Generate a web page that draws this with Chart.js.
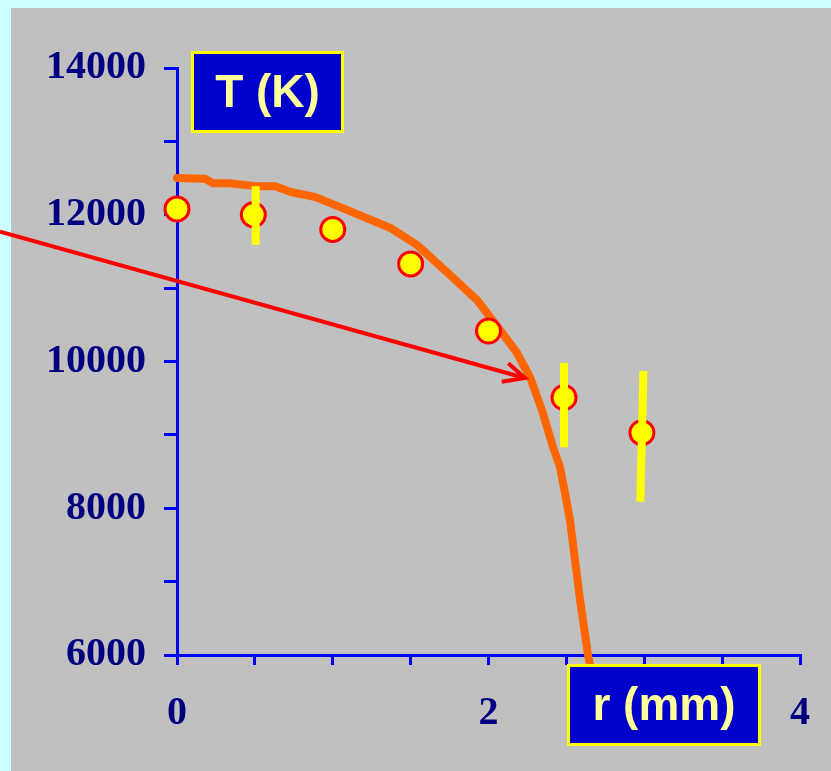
<!DOCTYPE html>
<html>
<head>
<meta charset="utf-8">
<script src="https://cdn.jsdelivr.net/npm/chart.js@4/dist/chart.umd.min.js"></script>
<style>
html,body{margin:0;padding:0;background:#ccffff;}
canvas{display:block;}
</style>
</head>
<body>
<canvas id="c" width="831" height="771"></canvas>
<script>
// Measured points (r in mm, T in K)
const pointR = [0, 0.49, 1.0, 1.5, 2.0, 2.485, 2.985];
const pointT = [12080, 12000, 11800, 11330, 10415, 9510, 9030];

// Error bars
const errTopR = [0.505, 2.485, 2.995];
const errTopT = [12390, 9980, 9870];
const errBotR = [0.505, 2.485, 2.975];
const errBotT = [11590, 8830, 8090];

// Model curve
const curveR = [0, 0.18, 0.23, 0.34, 0.5, 0.63, 0.73, 0.89, 1.11, 1.37, 1.54, 1.753, 1.926, 2.074, 2.183, 2.266, 2.343, 2.414, 2.459, 2.491, 2.523, 2.588, 2.639, 2.652];
const curveT = [12500, 12490, 12430, 12430, 12390, 12390, 12310, 12240, 12050, 11820, 11590, 11179, 10838, 10429, 10116, 9789, 9339, 8835, 8562, 8208, 7840, 6750, 6000, 5864];

// Arrow (shaft start, tip, wings)
const arrowR = [-1.1365, 2.234];
const arrowT = [11769, 9775];
const wingR = [2.127, 2.234, 2.085];
const wingT = [9975, 9775, 9725];

// Axis ticks
const xLabelValues = [0, 2, 4];
const yLabelValues = [6000, 8000, 10000, 12000, 14000];
const yTitle = 'T (K)';
const xTitle = 'r (mm)';

const zip = (a, b) => a.map((v, i) => ({x: v, y: b[i]}));
const errData = [];
errTopR.forEach((r, i) => {
  errData.push({x: r, y: errTopT[i]});
  errData.push({x: errBotR[i], y: errBotT[i]});
  errData.push({x: errBotR[i], y: null});
});

const bgPlugin = {
  id: 'bg',
  beforeDraw(chart) {
    const ctx = chart.ctx;
    ctx.save();
    ctx.fillStyle = '#ccffff';
    ctx.fillRect(0, 0, chart.width, chart.height);
    ctx.fillStyle = '#c0c0c0';
    ctx.fillRect(11, 8, chart.width - 11, chart.height - 8);
    ctx.restore();
  }
};

function drawBox(ctx, x, y, w, h, text) {
  ctx.save();
  ctx.fillStyle = '#0000cc';
  ctx.fillRect(x, y, w, h);
  ctx.strokeStyle = '#ffff00';
  ctx.lineWidth = 3;
  ctx.strokeRect(x, y, w, h);
  ctx.fillStyle = '#ffff99';
  ctx.font = 'bold 46px "Liberation Sans", Arial, sans-serif';
  ctx.textAlign = 'center';
  ctx.textBaseline = 'middle';
  ctx.fillText(text, x + w / 2, y + h / 2 + 2);
  ctx.restore();
}

const boxPlugin = {
  id: 'boxes',
  afterDraw(chart) {
    const ctx = chart.ctx;
    drawBox(ctx, 192.5, 52.5, 150, 79, yTitle);
    drawBox(ctx, 568.5, 665.5, 191, 79, xTitle);
  }
};

const tickFont = {family: '"Liberation Serif", "Times New Roman", serif', size: 40, weight: 'bold'};

new Chart(document.getElementById('c'), {
  type: 'line',
  data: {
    datasets: [
      {
        label: 'err', data: errData, borderColor: '#ffff00', borderWidth: 8,
        pointRadius: 0, spanGaps: false, tension: 0, clip: false, order: 0, borderCapStyle: 'butt'
      },
      {
        label: 'points', data: zip(pointR, pointT), showLine: false,
        pointRadius: 12, pointBackgroundColor: '#ffff00', pointBorderColor: '#ff0000',
        pointBorderWidth: 3, clip: false, order: 1
      },
      {
        label: 'arrow', data: zip(arrowR, arrowT), borderColor: '#ff0000', borderWidth: 4,
        pointRadius: 0, tension: 0, clip: false, order: 2
      },
      {
        label: 'wings', data: zip(wingR, wingT), borderColor: '#ff0000', borderWidth: 4,
        pointRadius: 0, tension: 0, clip: false, order: 2, borderJoinStyle: 'miter'
      },
      {
        label: 'curve', data: zip(curveR, curveT), borderColor: '#ff6600', borderWidth: 8,
        pointRadius: 0, tension: 0, clip: false, order: 3, borderCapStyle: 'round', borderJoinStyle: 'round'
      }
    ]
  },
  options: {
    responsive: false,
    animation: false,
    devicePixelRatio: 1,
    layout: {padding: {top: 68, right: 31, left: 0, bottom: 0}},
    plugins: {legend: {display: false}, tooltip: {enabled: false}, title: {display: false}},
    scales: {
      x: {
        type: 'linear', position: 'bottom', min: 0, max: 4,
        afterFit(s) { s.height = 116; s.paddingLeft = 0; s.paddingRight = 0; },
        ticks: {
          stepSize: 0.5, autoSkip: false, maxRotation: 0, minRotation: 0,
          color: '#000080', font: tickFont, padding: 25,
          callback: v => xLabelValues.includes(v) ? String(v) : ''
        },
        grid: {drawOnChartArea: false, drawTicks: true, tickLength: 10, color: '#0000ff', lineWidth: 3},
        border: {display: true, color: '#0000ff', width: 3}
      },
      y: {
        type: 'linear', min: 6000, max: 14000,
        afterFit(s) { s.width = 177; s.paddingTop = 0; s.paddingBottom = 0; },
        ticks: {
          stepSize: 1000, autoSkip: false,
          color: '#000080', font: tickFont, padding: 18,
          callback: v => yLabelValues.includes(v) ? String(v) : ''
        },
        grid: {drawOnChartArea: false, drawTicks: true, tickLength: 13, color: '#0000ff', lineWidth: 3},
        border: {display: true, color: '#0000ff', width: 3}
      }
    }
  },
  plugins: [bgPlugin, boxPlugin]
});
</script>
</body>
</html>
